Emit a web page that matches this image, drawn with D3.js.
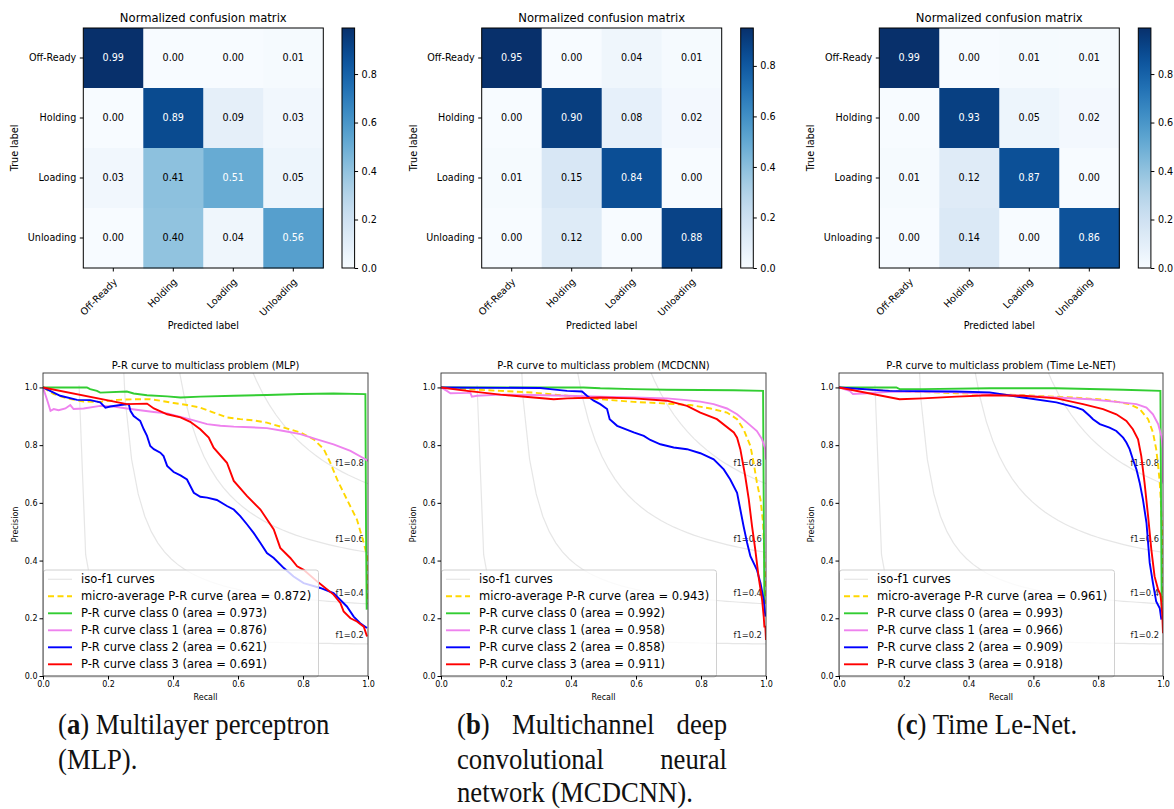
<!DOCTYPE html>
<html lang="en">
<head>
<meta charset="UTF-8">
<title>Confusion matrices and P-R curves</title>
<script src="https://d3js.org/d3.v7.min.js"></script>
<style>
  body { margin: 0; background: #fff; }
  svg { display: block; font-family: "DejaVu Sans", sans-serif; }
  .caption { font-family: "Liberation Serif", serif; font-size: 29px; fill: #111; }
</style>
</head>
<body>
<div id="chart"></div>
<script>
// ---- data ----
const classNames = ["Off-Ready", "Holding", "Loading", "Unloading"];
const cmMLP = [[0.99, 0.00, 0.00, 0.01], [0.00, 0.89, 0.09, 0.03], [0.03, 0.41, 0.51, 0.05], [0.00, 0.40, 0.04, 0.56]];
const cmMCDCNN = [[0.95, 0.00, 0.04, 0.01], [0.00, 0.90, 0.08, 0.02], [0.01, 0.15, 0.84, 0.00], [0.00, 0.12, 0.00, 0.88]];
const cmTimeLeNet = [[0.99, 0.00, 0.01, 0.01], [0.00, 0.93, 0.05, 0.02], [0.01, 0.12, 0.87, 0.00], [0.00, 0.14, 0.00, 0.86]];
const cbTicks = [0, 0.2, 0.4, 0.6, 0.8];
const prTicks = [0, 0.2, 0.4, 0.6, 0.8, 1.0];
const f1Levels = [0.2, 0.4, 0.6, 0.8];

// [recall, precision]
const mlpMicro = [[0,1.0],[0.033,0.977],[0.074,0.962],[0.125,0.951],[0.176,0.950],[0.228,0.957],[0.279,0.959],[0.330,0.959],[0.361,0.954],[0.402,0.946],[0.443,0.939],[0.484,0.930],[0.525,0.913],[0.566,0.896],[0.607,0.890],[0.648,0.886],[0.689,0.878],[0.741,0.861],[0.792,0.844],[0.833,0.820],[0.864,0.786],[0.884,0.739],[0.905,0.681],[0.935,0.612],[0.966,0.542],[0.987,0.461],[0.997,0.415],[1.0,0.25]];
const mlpClass0 = [[0,1.0],[0.135,1.0],[0.145,0.994],[0.166,0.988],[0.176,0.982],[0.258,0.986],[0.279,0.979],[0.320,0.973],[0.382,0.969],[0.423,0.965],[0.484,0.968],[0.587,0.971],[0.689,0.974],[0.792,0.977],[0.894,0.979],[0.992,0.977],[0.994,0.50],[0.996,0.23]];
const mlpClass1 = [[0,1.0],[0.012,0.959],[0.023,0.919],[0.033,0.925],[0.048,0.921],[0.069,0.927],[0.084,0.939],[0.094,0.925],[0.125,0.927],[0.176,0.936],[0.217,0.934],[0.258,0.927],[0.299,0.921],[0.341,0.915],[0.382,0.910],[0.423,0.898],[0.464,0.886],[0.505,0.873],[0.546,0.867],[0.587,0.864],[0.638,0.862],[0.689,0.859],[0.741,0.849],[0.792,0.838],[0.843,0.820],[0.894,0.803],[0.946,0.780],[0.992,0.751],[1.0,0.745]];
const mlpClass2 = [[0,1.0],[0.053,0.971],[0.105,0.957],[0.146,0.956],[0.176,0.948],[0.192,0.930],[0.207,0.934],[0.238,0.939],[0.264,0.942],[0.269,0.919],[0.279,0.901],[0.289,0.892],[0.299,0.884],[0.310,0.855],[0.320,0.832],[0.330,0.797],[0.341,0.786],[0.361,0.774],[0.371,0.762],[0.382,0.728],[0.402,0.707],[0.423,0.695],[0.443,0.681],[0.464,0.635],[0.484,0.621],[0.505,0.618],[0.535,0.610],[0.566,0.589],[0.587,0.577],[0.607,0.554],[0.628,0.525],[0.648,0.496],[0.669,0.461],[0.689,0.426],[0.710,0.409],[0.741,0.374],[0.771,0.345],[0.802,0.322],[0.853,0.305],[0.894,0.287],[0.935,0.241],[0.956,0.206],[0.976,0.183],[0.997,0.166]];
const mlpClass3 = [[0,1.0],[0.258,0.942],[0.320,0.944],[0.341,0.927],[0.382,0.907],[0.423,0.896],[0.453,0.881],[0.484,0.855],[0.510,0.826],[0.525,0.791],[0.566,0.739],[0.587,0.676],[0.628,0.623],[0.669,0.577],[0.710,0.508],[0.730,0.444],[0.761,0.409],[0.782,0.380],[0.802,0.368],[0.843,0.328],[0.894,0.282],[0.915,0.253],[0.925,0.224],[0.946,0.200],[0.966,0.189],[0.987,0.171],[0.997,0.137]];
const mlpAreas = [0.872, 0.973, 0.876, 0.621, 0.691];

const mcdMicro = [[0,1.0],[0.080,0.994],[0.183,0.988],[0.285,0.982],[0.388,0.971],[0.490,0.959],[0.593,0.950],[0.695,0.944],[0.767,0.939],[0.829,0.927],[0.880,0.913],[0.911,0.890],[0.931,0.855],[0.952,0.797],[0.962,0.739],[0.972,0.670],[0.983,0.612],[0.991,0.531],[1.0,0.25]];
const mcdClass0 = [[0,1.0],[0.439,1.0],[0.490,0.997],[0.593,0.994],[0.695,0.992],[0.901,0.990],[0.991,0.988],[0.993,0.60],[0.995,0.25]];
const mcdClass1 = [[0,1.0],[0.018,0.988],[0.029,0.980],[0.080,0.981],[0.090,0.982],[0.095,0.968],[0.111,0.971],[0.183,0.975],[0.285,0.974],[0.388,0.971],[0.490,0.968],[0.593,0.965],[0.695,0.962],[0.747,0.957],[0.798,0.951],[0.839,0.942],[0.880,0.927],[0.911,0.907],[0.942,0.878],[0.972,0.849],[0.988,0.820],[0.998,0.786],[1.0,0.75]];
const mcdClass2 = [[0,1.0],[0.306,0.998],[0.336,0.994],[0.388,0.988],[0.434,0.986],[0.449,0.971],[0.470,0.954],[0.490,0.942],[0.511,0.925],[0.519,0.890],[0.542,0.867],[0.593,0.844],[0.624,0.832],[0.644,0.818],[0.675,0.803],[0.716,0.792],[0.757,0.786],[0.798,0.772],[0.839,0.751],[0.870,0.716],[0.890,0.681],[0.911,0.635],[0.921,0.577],[0.931,0.519],[0.942,0.461],[0.952,0.415],[0.972,0.368],[0.983,0.322],[0.993,0.264],[0.998,0.206]];
const mcdClass3 = [[0,1.0],[0.080,0.988],[0.183,0.975],[0.285,0.965],[0.347,0.959],[0.388,0.962],[0.490,0.965],[0.593,0.962],[0.695,0.954],[0.757,0.936],[0.798,0.913],[0.849,0.890],[0.901,0.844],[0.911,0.826],[0.921,0.786],[0.936,0.693],[0.947,0.612],[0.957,0.519],[0.967,0.438],[0.977,0.345],[0.988,0.264],[0.993,0.206],[0.995,0.171],[0.998,0.171],[1.0,0.125]];
const mcdAreas = [0.943, 0.992, 0.958, 0.858, 0.911];

const tlnMicro = [[0,1.0],[0.156,0.988],[0.362,0.980],[0.568,0.973],[0.722,0.965],[0.825,0.957],[0.897,0.942],[0.928,0.925],[0.954,0.890],[0.969,0.844],[0.979,0.786],[0.985,0.728],[0.990,0.670],[0.993,0.612],[0.995,0.554],[0.998,0.496],[1.0,0.25]];
const tlnClass0 = [[0,1.0],[0.177,1.0],[0.187,0.994],[0.259,0.994],[0.465,0.997],[0.671,0.997],[0.877,0.992],[0.992,0.988],[0.994,0.60],[0.996,0.23]];
const tlnClass1 = [[0,1.0],[0.033,0.988],[0.043,0.977],[0.074,0.979],[0.156,0.985],[0.259,0.985],[0.362,0.983],[0.465,0.977],[0.568,0.971],[0.671,0.965],[0.774,0.959],[0.856,0.950],[0.918,0.942],[0.949,0.930],[0.969,0.907],[0.985,0.873],[0.995,0.832],[1.0,0.786],[1.0,0.67]];
const tlnClass2 = [[0,1.0],[0.156,0.988],[0.362,0.986],[0.465,0.983],[0.568,0.965],[0.671,0.948],[0.733,0.930],[0.753,0.922],[0.774,0.901],[0.784,0.890],[0.805,0.873],[0.835,0.861],[0.856,0.849],[0.877,0.826],[0.887,0.809],[0.897,0.786],[0.907,0.751],[0.918,0.716],[0.928,0.670],[0.938,0.612],[0.949,0.531],[0.954,0.461],[0.959,0.392],[0.969,0.322],[0.979,0.258],[0.990,0.235],[0.995,0.195]];
const tlnClass3 = [[0,1.0],[0.187,0.959],[0.259,0.962],[0.362,0.968],[0.465,0.973],[0.568,0.971],[0.671,0.962],[0.753,0.942],[0.815,0.925],[0.856,0.907],[0.887,0.884],[0.907,0.855],[0.923,0.820],[0.933,0.762],[0.943,0.670],[0.954,0.554],[0.964,0.438],[0.974,0.345],[0.985,0.299],[0.992,0.282],[0.995,0.253],[0.998,0.206],[1.0,0.148]];
const tlnAreas = [0.961, 0.993, 0.966, 0.909, 0.918];

const seriesColors = ["gold", "limegreen", "violet", "blue", "red"];

// ---- drawing ----
const svg = d3.select("#chart").append("svg").attr("width", 1174).attr("height", 809);
const fmt2 = d3.format(".2f"), fmt1 = d3.format(".1f"), fmt3 = d3.format(".3f");

function drawCM(matrix, left, cbLeft, id) {
  const top = 28, size = 240;
  const g = svg.append("g");
  const x = d3.scaleBand().domain(d3.range(4)).range([left, left + size]);
  const y = d3.scaleBand().domain(d3.range(4)).range([top, top + size]);
  const max = d3.max(matrix.flat());
  const color = d3.scaleSequential(d3.interpolateBlues).domain([0, max]);
  const cells = matrix.flatMap((row, i) => row.map((v, j) => ({ i, j, v })));

  g.selectAll("rect.cell").data(cells).join("rect")
    .attr("x", d => x(d.j)).attr("y", d => y(d.i))
    .attr("width", x.bandwidth() + 0.5).attr("height", y.bandwidth() + 0.5)
    .attr("fill", d => color(d.v));
  g.selectAll("text.val").data(cells).join("text")
    .attr("x", d => x(d.j) + x.bandwidth() / 2).attr("y", d => y(d.i) + y.bandwidth() / 2)
    .attr("dy", "0.35em").attr("text-anchor", "middle").attr("font-size", 9.6)
    .attr("fill", d => d.v > max / 2 ? "#fff" : "#000")
    .text(d => fmt2(d.v));
  g.append("rect").attr("x", left).attr("y", top).attr("width", size).attr("height", size)
    .attr("fill", "none").attr("stroke", "#000").attr("stroke-width", 1);

  // row ticks
  classNames.forEach((name, i) => {
    const cy = y(i) + y.bandwidth() / 2;
    g.append("line").attr("x1", left - 3.5).attr("x2", left).attr("y1", cy).attr("y2", cy).attr("stroke", "#000");
    g.append("text").attr("x", left - 7).attr("y", cy).attr("dy", "0.35em")
      .attr("text-anchor", "end").attr("font-size", 9.6).text(name);
  });
  // column ticks
  classNames.forEach((name, j) => {
    const cx = x(j) + x.bandwidth() / 2;
    g.append("line").attr("x1", cx).attr("x2", cx).attr("y1", top + size).attr("y2", top + size + 3.5).attr("stroke", "#000");
    g.append("text").attr("transform", `translate(${cx + 2},${top + size + 12}) rotate(-45)`)
      .attr("text-anchor", "end").attr("dy", "0.35em").attr("font-size", 9.6).text(name);
  });
  const mid = left + size / 2;
  g.append("text").attr("x", mid).attr("y", 22).attr("text-anchor", "middle").attr("font-size", 11.6).text("Normalized confusion matrix");
  g.append("text").attr("x", mid).attr("y", 329).attr("text-anchor", "middle").attr("font-size", 9.6).text("Predicted label");
  g.append("text").attr("transform", `translate(${left - 65},${top + size / 2}) rotate(-90)`)
    .attr("text-anchor", "middle").attr("font-size", 9.6).text("True label");

  // colorbar
  const grad = svg.append("defs").append("linearGradient").attr("id", id)
    .attr("x1", 0).attr("y1", 1).attr("x2", 0).attr("y2", 0);
  d3.range(0, 1.0001, 0.05).forEach(t => grad.append("stop").attr("offset", t).attr("stop-color", d3.interpolateBlues(t)));
  const cbW = 12.6;
  g.append("rect").attr("x", cbLeft).attr("y", top).attr("width", cbW).attr("height", size)
    .attr("fill", `url(#${id})`).attr("stroke", "#000").attr("stroke-width", 1);
  const cy = d3.scaleLinear().domain([0, max]).range([top + size, top]);
  const ax = g.append("g").attr("transform", `translate(${cbLeft + cbW},0)`)
    .call(d3.axisRight(cy).tickValues(cbTicks).tickFormat(fmt1).tickSize(3.5).tickPadding(3.5));
  ax.select(".domain").remove();
  ax.selectAll("text").attr("font-size", 9.6).attr("font-family", "DejaVu Sans");
}

drawCM(cmMLP, 83.3, 342, "cbA");
drawCM(cmMCDCNN, 481.7, 740.7, "cbB");
drawCM(cmTimeLeNet, 879.3, 1138.3, "cbC");

function drawPR(cfg) {
  const top = 373, bottom = 676;
  const g = svg.append("g");
  const x = d3.scaleLinear().domain([0, 1]).range([cfg.left, cfg.right]);
  const y = d3.scaleLinear().domain([0, 1.05]).range([bottom, top]);
  g.append("clipPath").attr("id", cfg.id).append("rect")
    .attr("x", cfg.left).attr("y", top).attr("width", cfg.right - cfg.left).attr("height", bottom - top);
  const plot = g.append("g").attr("clip-path", `url(#${cfg.id})`);
  const line = d3.line().x(d => x(d[0])).y(d => y(d[1]));

  // iso-f1 curves
  const xs = d3.range(50).map(k => 0.01 + k * 0.99 / 49);
  f1Levels.forEach(f => {
    const pts = xs.map(r => [r, f * r / (2 * r - f)]).filter(d => d[1] >= 0);
    plot.append("path").attr("d", line(pts)).attr("fill", "none")
      .attr("stroke", "rgba(128,128,128,0.2)").attr("stroke-width", 1.2);
    const y45 = f * xs[45] / (2 * xs[45] - f);
    plot.append("text").attr("x", x(0.9)).attr("y", y(y45 + 0.02))
      .attr("font-size", 8.3).attr("fill", "#222").text(`f1=${fmt1(f)}`);
  });

  cfg.curves.forEach((c, k) => {
    plot.append("path").attr("d", line(c)).attr("fill", "none")
      .attr("stroke", seriesColors[k]).attr("stroke-width", 1.9)
      .attr("stroke-dasharray", k === 0 ? "6,3.5" : null);
  });

  // legend
  const lg = g.append("g");
  lg.append("rect").attr("x", cfg.left + 0.5).attr("y", 570).attr("width", 275).attr("height", 107)
    .attr("rx", 2.5).attr("fill", "rgba(255,255,255,0.8)").attr("stroke", "#d0d0d0").attr("stroke-width", 1);
  const labels = ["iso-f1 curves", `micro-average P-R curve (area = ${fmt3(cfg.areas[0])})`]
    .concat(d3.range(4).map(i => `P-R curve class ${i} (area = ${fmt3(cfg.areas[i + 1])})`));
  const handleColors = ["rgba(128,128,128,0.2)"].concat(seriesColors);
  labels.forEach((lab, i) => {
    const ly = 579.3 + i * 17;
    lg.append("line").attr("x1", cfg.left + 5).attr("x2", cfg.left + 29).attr("y1", ly).attr("y2", ly)
      .attr("stroke", handleColors[i]).attr("stroke-width", i === 0 ? 1.2 : 1.9)
      .attr("stroke-dasharray", i === 1 ? "6,3.5" : null);
    lg.append("text").attr("x", cfg.left + 38).attr("y", ly).attr("dy", "0.36em")
      .attr("font-size", 11.5).text(lab);
  });

  // spines and axes
  g.append("rect").attr("x", cfg.left).attr("y", top).attr("width", cfg.right - cfg.left).attr("height", bottom - top)
    .attr("fill", "none").attr("stroke", "#333").attr("stroke-width", 0.9);
  const xa = g.append("g").attr("transform", `translate(0,${bottom})`)
    .call(d3.axisBottom(x).tickValues(prTicks).tickFormat(fmt1).tickSize(3.5).tickPadding(2));
  const ya = g.append("g").attr("transform", `translate(${cfg.left},0)`)
    .call(d3.axisLeft(y).tickValues(prTicks).tickFormat(fmt1).tickSize(3.5).tickPadding(2));
  [xa, ya].forEach(a => {
    a.select(".domain").remove();
    a.selectAll("text").attr("font-size", 8).attr("font-family", "DejaVu Sans");
  });
  const mid = (cfg.left + cfg.right) / 2;
  g.append("text").attr("x", mid).attr("y", 369).attr("text-anchor", "middle").attr("font-size", 9.9).text(cfg.title);
  g.append("text").attr("x", mid).attr("y", 700).attr("text-anchor", "middle").attr("font-size", 8).text("Recall");
  g.append("text").attr("transform", `translate(${cfg.left - 25},${(top + bottom) / 2}) rotate(-90)`)
    .attr("text-anchor", "middle").attr("font-size", 8).text("Precision");
}

drawPR({ id: "clipA", left: 43, right: 368, title: "P-R curve to multiclass problem (MLP)",
  curves: [mlpMicro, mlpClass0, mlpClass1, mlpClass2, mlpClass3], areas: mlpAreas });
drawPR({ id: "clipB", left: 441, right: 766, title: "P-R curve to multiclass problem (MCDCNN)",
  curves: [mcdMicro, mcdClass0, mcdClass1, mcdClass2, mcdClass3], areas: mcdAreas });
drawPR({ id: "clipC", left: 839, right: 1163, title: "P-R curve to multiclass problem (Time Le-NET)",
  curves: [tlnMicro, tlnClass0, tlnClass1, tlnClass2, tlnClass3], areas: tlnAreas });

// ---- captions ----
const capG = svg.append("g");
function word(w) {
  const t = capG.append("text").attr("class", "caption");
  const m = w.match(/^\((\w)\)$/);
  if (m) {
    t.append("tspan").text("(");
    t.append("tspan").attr("font-weight", "bold").text(m[1]);
    t.append("tspan").text(")");
  } else t.text(w);
  return t;
}
// horizontal squeeze measured from the first caption line
const probe = word("(a) Multilayer perceptron");
const k = 270 / probe.node().getComputedTextLength();
probe.remove();

function place(t, x, y) { t.attr("transform", `translate(${x},${y}) scale(${k},1)`); }
function plainLine(txt, x, y, anchor) {
  const t = capG.append("text").attr("class", "caption").attr("text-anchor", anchor || "start");
  txt.split(/(\(\w\))/).filter(s => s).forEach(s => {
    const m = s.match(/^\((\w)\)$/);
    if (m) { t.append("tspan").text("("); t.append("tspan").attr("font-weight", "bold").text(m[1]); t.append("tspan").text(")"); }
    else t.append("tspan").text(s);
  });
  place(t, x, y);
}
function justLine(words, x0, x1, y) {
  const nodes = words.map(word);
  const widths = nodes.map(n => n.node().getComputedTextLength() * k);
  const gap = (x1 - x0 - d3.sum(widths)) / (words.length - 1);
  let cx = x0;
  nodes.forEach((n, i) => { place(n, cx, y); cx += widths[i] + gap; });
}

plainLine("(a) Multilayer perceptron", 58, 734);
plainLine("(MLP).", 58, 769);
justLine(["(b)", "Multichannel", "deep"], 457, 727, 734);
justLine(["convolutional", "neural"], 457, 727, 769);
plainLine("network (MCDCNN).", 457, 802);
plainLine("(c) Time Le-Net.", 987, 734, "middle");
</script>
</body>
</html>
